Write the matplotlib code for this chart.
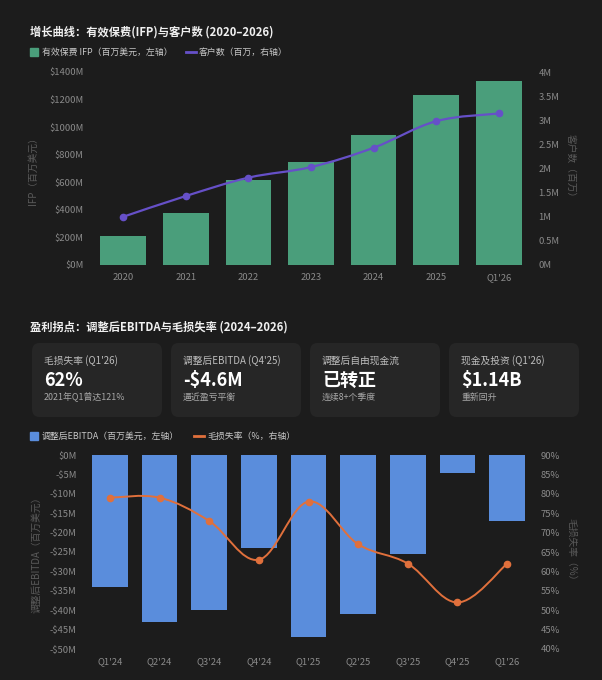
import matplotlib
matplotlib.use("Agg")
import matplotlib.pyplot as plt
from matplotlib.path import Path
from matplotlib.patches import PathPatch, FancyBboxPatch, Rectangle
from matplotlib.lines import Line2D

plt.rcParams['font.family'] = ['Noto Sans CJK SC', 'DejaVu Sans']

# growth chart data
years = ['2020', '2021', '2022', '2023', '2024', '2025', "Q1'26"]
ifp = [210, 380, 620, 745, 945, 1235, 1335]          # $M, left axis
customers = [1.0, 1.43, 1.81, 2.03, 2.43, 2.98, 3.14]  # millions, right axis

# profitability chart data
quarters = ["Q1'24", "Q2'24", "Q3'24", "Q4'24", "Q1'25", "Q2'25", "Q3'25", "Q4'25", "Q1'26"]
ebitda = [-34, -43, -40, -24, -47, -41, -25.5, -4.6, -17]  # $M
loss_ratio = [79, 79, 73, 63, 78, 67, 62, 52, 62]          # %

# KPI cards
card_titles = ["毛损失率 (Q1'26)", "调整后EBITDA (Q4'25)", "调整后自由现金流", "现金及投资 (Q1'26)"]
card_values = ["62%", "-$4.6M", "已转正", "$1.14B"]
card_notes = ["2021年Q1曾达121%", "逼近盈亏平衡", "连续8+个季度", "重新回升"]

BG = '#1c1c1c'
CARD = '#262626'
GREEN = '#4a9e7b'
PURPLE = '#6650c8'
BLUE = '#5a8ddc'
ORANGE = '#e0703c'
TICK = '#8a8a8a'
W, H = 602, 680


def smooth_path(xs, ys, t=0.35):
    # catmull-rom style cubic segments through the data points
    verts = [(xs[0], ys[0])]
    codes = [Path.MOVETO]
    n = len(xs)
    for i in range(n - 1):
        x0, y0 = (xs[i - 1], ys[i - 1]) if i > 0 else (xs[i], ys[i])
        x1, y1 = xs[i], ys[i]
        x2, y2 = xs[i + 1], ys[i + 1]
        x3, y3 = (xs[i + 2], ys[i + 2]) if i + 2 < n else (x2, y2)
        c1 = (x1 + (x2 - x0) * t / 2, y1 + (y2 - y0) * t / 2)
        c2 = (x2 - (x3 - x1) * t / 2, y2 - (y3 - y1) * t / 2)
        verts += [c1, c2, (x2, y2)]
        codes += [Path.CURVE4] * 3
    return Path(verts, codes)


def style_axes(ax):
    ax.set_facecolor(BG)
    for s in ax.spines.values():
        s.set_visible(False)
    ax.tick_params(colors=TICK, labelsize=6.8, length=0, pad=6)


fig = plt.figure(figsize=(W / 100, H / 100), dpi=100)
fig.patch.set_facecolor(BG)

# ---------- top chart ----------
fig.text(30 / W, 1 - 32 / H, '增长曲线：有效保费(IFP)与客户数 (2020–2026)',
         color='#f0f0f0', fontsize=8.1, fontweight='bold', va='center')
fig.patches.append(Rectangle((30 / W, 1 - 56 / H), 8 / W, 8 / H, color=GREEN,
                             transform=fig.transFigure))
fig.text(42 / W, 1 - 52 / H, '有效保费 IFP（百万美元，左轴）', color='#c8c8c8', fontsize=6.4, va='center')
fig.lines.append(Line2D([186 / W, 196 / W], [1 - 52 / H] * 2, color=PURPLE, lw=2,
                        transform=fig.transFigure))
fig.text(199 / W, 1 - 52 / H, '客户数（百万，右轴）', color='#c8c8c8', fontsize=6.4, va='center')

ax1 = fig.add_axes([92 / W, 1 - 265 / H, 438 / W, 193 / H])
style_axes(ax1)
x1 = list(range(len(years)))
ax1.bar(x1, ifp, width=0.73, color=GREEN)
ax1.set_xlim(-0.5, len(years) - 0.5)
ax1.set_ylim(0, 1400)
ax1.set_yticks(range(0, 1401, 200))
ax1.set_yticklabels([f'${v}M' for v in range(0, 1401, 200)])
ax1.set_xticks(x1)
ax1.set_xticklabels(years)
ax1.set_ylabel('IFP（百万美元）', color='#5a5a5a', fontsize=7, labelpad=8)

ax1r = ax1.twinx()
style_axes(ax1r)
ax1r.set_ylim(0, 4)
ax1r.set_yticks([0, 0.5, 1, 1.5, 2, 2.5, 3, 3.5, 4])
ax1r.set_yticklabels(['0M', '0.5M', '1M', '1.5M', '2M', '2.5M', '3M', '3.5M', '4M'])
ax1r.add_patch(PathPatch(smooth_path(x1, customers), fill=False, edgecolor=PURPLE, lw=1.6))
ax1r.plot(x1, customers, 'o', color=PURPLE, ms=4.5)
ax1r.set_ylabel('客户数（百万）', color='#5a5a5a', fontsize=7, rotation=270, labelpad=12)

# ---------- KPI cards ----------
fig.text(30 / W, 1 - 327 / H, '盈利拐点：调整后EBITDA与毛损失率 (2024–2026)',
         color='#f0f0f0', fontsize=8.1, fontweight='bold', va='center')
card_w, card_gap, card_x0 = 130, 9, 32
for i in range(4):
    cx = card_x0 + i * (card_w + card_gap)
    fig.patches.append(FancyBboxPatch((cx / W, 1 - 417 / H), card_w / W, 74 / H,
                                      boxstyle='round,pad=0,rounding_size=0.012',
                                      facecolor=CARD, edgecolor='none',
                                      transform=fig.transFigure))
    fig.text((cx + 12) / W, 1 - 361 / H, card_titles[i], color='#bdbdbd', fontsize=7, va='center')
    fig.text((cx + 12) / W, 1 - 380 / H, card_values[i], color='#ffffff', fontsize=13,
             fontweight='bold', va='center')
    fig.text((cx + 12) / W, 1 - 397 / H, card_notes[i], color='#a8a8a8', fontsize=6.4, va='center')

# ---------- bottom chart ----------
fig.patches.append(Rectangle((30 / W, 1 - 440 / H), 8 / W, 8 / H, color=BLUE,
                             transform=fig.transFigure))
fig.text(42 / W, 1 - 436 / H, '调整后EBITDA（百万美元，左轴）', color='#c8c8c8', fontsize=6.4, va='center')
fig.lines.append(Line2D([194 / W, 204 / W], [1 - 436 / H] * 2, color=ORANGE, lw=2,
                        transform=fig.transFigure))
fig.text(207 / W, 1 - 436 / H, '毛损失率（%，右轴）', color='#c8c8c8', fontsize=6.4, va='center')

ax2 = fig.add_axes([85 / W, 1 - 649 / H, 447 / W, 194 / H])
style_axes(ax2)
x2 = list(range(len(quarters)))
ax2.bar(x2, ebitda, width=0.72, color=BLUE)
ax2.set_xlim(-0.5, len(quarters) - 0.5)
ax2.set_ylim(-50, 0)
ax2.set_yticks(range(-50, 1, 5))
ax2.set_yticklabels([f'-${-v}M' if v < 0 else '$0M' for v in range(-50, 1, 5)])
ax2.set_xticks(x2)
ax2.set_xticklabels(quarters)
ax2.set_ylabel('调整后EBITDA（百万美元）', color='#5a5a5a', fontsize=7, labelpad=6)

ax2r = ax2.twinx()
style_axes(ax2r)
ax2r.set_ylim(40, 90)
ax2r.set_yticks(range(40, 91, 5))
ax2r.set_yticklabels([f'{v}%' for v in range(40, 91, 5)])
ax2r.add_patch(PathPatch(smooth_path(x2, loss_ratio), fill=False, edgecolor=ORANGE, lw=1.4))
ax2r.plot(x2, loss_ratio, 'o', color=ORANGE, ms=4.5)
ax2r.set_ylabel('毛损失率（%）', color='#5a5a5a', fontsize=7, rotation=270, labelpad=12)

fig.savefig('out.png', dpi=100, facecolor=BG)
